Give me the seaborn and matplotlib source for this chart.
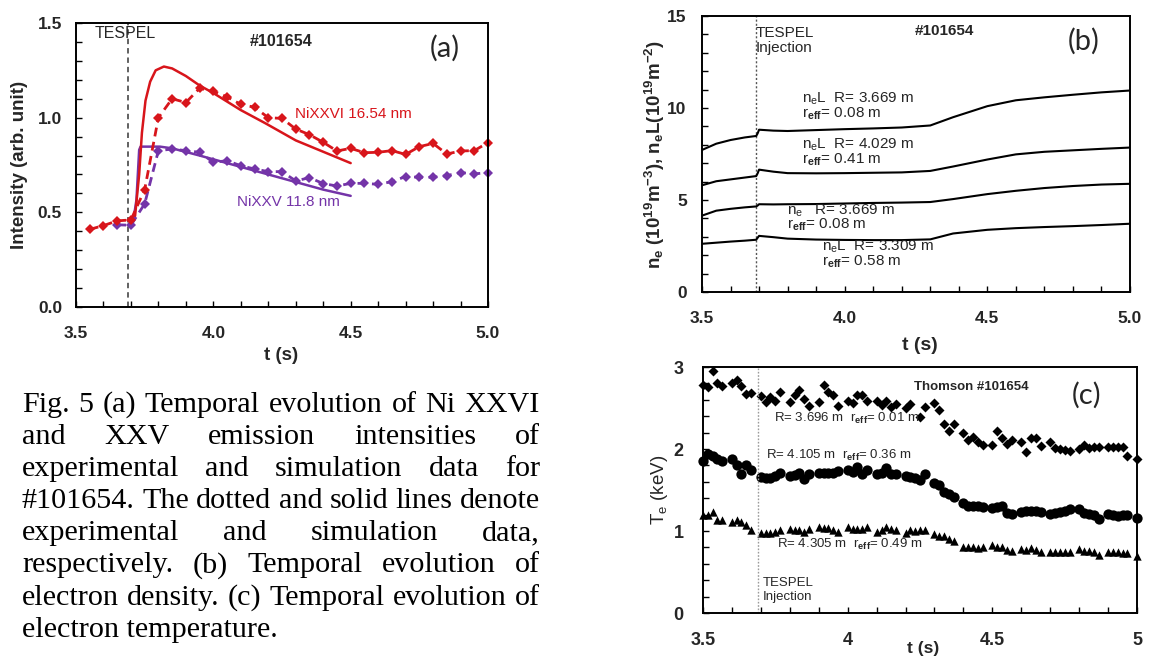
import numpy as np
import pandas as pd
import matplotlib
matplotlib.use("Agg")
import matplotlib.pyplot as plt
import seaborn as sns
from matplotlib.ticker import MultipleLocator

# ---------------- (a) Ni XXVI / Ni XXV line intensities ----------------
t_exp_26 = [3.55, 3.60, 3.65, 3.70, 3.75, 3.80, 3.85, 3.90, 3.95, 4.00,
            4.05, 4.10, 4.15, 4.20, 4.25, 4.30, 4.35, 4.40, 4.45, 4.50,
            4.55, 4.60, 4.65, 4.70, 4.75, 4.80, 4.85, 4.90, 4.95, 5.00]
i_exp_26 = [0.41, 0.43, 0.455, 0.46, 0.62, 1.00, 1.10, 1.08, 1.155, 1.14,
            1.11, 1.07, 1.055, 1.00, 0.996, 0.94, 0.91, 0.87, 0.824, 0.838,
            0.815, 0.817, 0.826, 0.806, 0.847, 0.864, 0.808, 0.824, 0.826, 0.868]
t_exp_25 = [3.65, 3.70, 3.75, 3.80, 3.85, 3.90, 3.95, 4.00, 4.05, 4.10,
            4.15, 4.20, 4.25, 4.30, 4.35, 4.40, 4.45, 4.50, 4.55, 4.60,
            4.65, 4.70, 4.75, 4.80, 4.85, 4.90, 4.95, 5.00]
i_exp_25 = [0.434, 0.432, 0.545, 0.826, 0.834, 0.826, 0.817, 0.764, 0.773, 0.746,
            0.729, 0.715, 0.715, 0.666, 0.683, 0.652, 0.639, 0.653, 0.653, 0.648,
            0.662, 0.689, 0.685, 0.685, 0.694, 0.710, 0.703, 0.710]
t_sim_26 = [3.715, 3.73, 3.74, 3.753, 3.77, 3.79, 3.82, 3.85, 3.90, 3.95,
            4.00, 4.10, 4.19, 4.30, 4.40, 4.50]
i_sim_26 = [0.48, 0.70, 0.92, 1.09, 1.19, 1.25, 1.27, 1.26, 1.22, 1.17,
            1.13, 1.04, 0.97, 0.88, 0.82, 0.76]
t_sim_25 = [3.71, 3.72, 3.73, 3.735, 3.806, 3.85, 3.95, 4.00, 4.10, 4.20,
            4.30, 4.40, 4.50]
i_sim_25 = [0.47, 0.565, 0.83, 0.847, 0.847, 0.838, 0.80, 0.78, 0.74, 0.70,
            0.66, 0.62, 0.587]

# ---------------- (b) line-integrated / local density ----------------
t_dens = [3.50, 3.55, 3.60, 3.65, 3.69, 3.695, 3.70, 3.75, 3.80, 3.90, 4.00,
          4.10, 4.20, 4.30, 4.38, 4.50, 4.60, 4.70, 4.80, 4.90, 5.00]
nel_3669 = [7.72, 8.06, 8.26, 8.40, 8.48, 8.62, 8.82, 8.77, 8.75, 8.80, 8.85,
            8.89, 8.94, 9.05, 9.50, 10.10, 10.42, 10.58, 10.72, 10.85, 10.95]
nel_4029 = [5.80, 6.02, 6.12, 6.22, 6.30, 6.45, 6.65, 6.54, 6.46, 6.45, 6.46,
            6.48, 6.50, 6.58, 6.82, 7.20, 7.48, 7.62, 7.70, 7.78, 7.85]
ne_3669 = [4.15, 4.42, 4.52, 4.60, 4.65, 4.70, 4.77, 4.76, 4.77, 4.78, 4.81,
           4.84, 4.86, 4.89, 5.05, 5.32, 5.50, 5.65, 5.76, 5.84, 5.88]
nel_3309 = [2.62, 2.68, 2.74, 2.79, 2.84, 2.95, 3.05, 2.98, 2.90, 2.85, 2.83,
            2.82, 2.82, 2.86, 3.18, 3.38, 3.47, 3.53, 3.58, 3.64, 3.71]

# ---------------- (c) Thomson scattering electron temperature ----------------
t_ts = [3.500, 3.517, 3.533, 3.550, 3.567, 3.600, 3.617, 3.633, 3.650, 3.667,
        3.700, 3.717, 3.733, 3.750, 3.767, 3.800, 3.817, 3.833, 3.850, 3.867,
        3.900, 3.917, 3.933, 3.950, 3.967, 4.000, 4.017, 4.033, 4.050, 4.067,
        4.100, 4.117, 4.133, 4.150, 4.167, 4.200, 4.217, 4.233, 4.250, 4.267,
        4.300, 4.317, 4.333, 4.350, 4.367, 4.400, 4.417, 4.433, 4.450, 4.467,
        4.500, 4.517, 4.533, 4.550, 4.567, 4.600, 4.617, 4.633, 4.650, 4.667,
        4.700, 4.717, 4.733, 4.750, 4.767, 4.800, 4.817, 4.833, 4.850, 4.867,
        4.900, 4.917, 4.933, 4.950, 4.967, 5.000]
te_r3696 = [2.78, 2.76, 2.95, 2.81, 2.77, 2.80, 2.84, 2.77, 2.67, 2.68,
            2.65, 2.57, 2.64, 2.59, 2.70, 2.57, 2.66, 2.72, 2.61, 2.52,
            2.57, 2.78, 2.70, 2.66, 2.52, 2.59, 2.56, 2.66, 2.66, 2.58,
            2.58, 2.54, 2.59, 2.51, 2.55, 2.50, 2.55, np.nan, 2.39, 2.51,
            2.56, 2.47, 2.30, 2.22, 2.30, 2.19, 2.11, 2.15, 2.09, 2.05,
            2.05, 2.22, 2.13, 2.06, 2.11, 2.09, 1.96, 2.13, 2.13, 2.04,
            2.08, 2.01, 2.00, 1.99, 1.98, 2.00, 2.05, 2.01, 2.03, 2.02,
            2.03, 2.02, 2.02, 2.03, 1.92, 1.88]
te_r4105 = [1.85, 1.94, 1.91, 1.88, 1.85, 1.88, 1.80, 1.69, 1.81, 1.74,
            1.66, 1.65, 1.65, 1.67, 1.71, 1.67, 1.68, 1.71, 1.63, 1.70,
            1.71, 1.71, 1.71, 1.71, 1.73, 1.75, 1.72, 1.78, 1.69, 1.74,
            1.69, 1.71, 1.77, 1.69, 1.70, 1.67, 1.66, 1.65, 1.62, 1.69,
            1.59, 1.56, 1.48, 1.45, 1.42, 1.34, 1.31, 1.30, 1.30, 1.29,
            1.28, 1.29, 1.31, 1.22, 1.21, 1.23, 1.24, 1.25, 1.24, 1.23,
            1.21, 1.22, 1.23, 1.24, 1.27, 1.27, 1.22, 1.21, 1.19, 1.15,
            1.21, 1.19, 1.18, 1.19, 1.20, 1.16]
te_r4305 = [1.19, 1.20, 1.23, 1.13, 1.13, 1.11, 1.13, 1.11, 1.07, 1.01,
            0.97, 0.98, 0.98, 0.99, 1.01, 1.03, 1.01, 1.01, 0.99, 1.02,
            1.05, 1.04, 1.04, 1.01, 0.99, 1.05, 1.03, 1.03, 1.03, 1.05,
            0.99, 1.01, 1.05, 1.03, 1.01, 0.97, 1.01, 1.00, 1.01, 1.01,
            0.96, 0.94, 0.94, 0.90, 0.88, 0.80, 0.80, 0.80, 0.79, 0.81,
            0.83, 0.80, 0.80, 0.77, 0.76, 0.78, 0.77, 0.79, 0.77, 0.74,
            0.75, 0.75, 0.75, 0.75, 0.75, 0.78, 0.76, 0.76, 0.74, 0.71,
            0.75, 0.74, 0.74, 0.73, 0.73, 0.70]

t_tespel = 3.69

caption = [
    "Fig. 5 (a) Temporal evolution of Ni XXVI",
    "and XXV emission intensities of",
    "experimental and simulation data for",
    "#101654. The dotted and solid lines denote",
    "experimental and simulation data,",
    "respectively. (b) Temporal evolution of",
    "electron density. (c) Temporal evolution of",
    "electron temperature.",
]

RED = "#d8151b"
PURPLE = "#7434a8"
SANS = ["Liberation Sans", "DejaVu Sans"]
SERIF = ["Liberation Serif", "DejaVu Serif"]

sns.set_style("ticks")
plt.rcParams["font.family"] = SANS
plt.rcParams["mathtext.fontset"] = "custom"
plt.rcParams["mathtext.rm"] = "Liberation Sans"
plt.rcParams["mathtext.it"] = "Liberation Sans"
plt.rcParams["mathtext.bf"] = "Liberation Sans:bold"

W, H = 1150, 657
fig = plt.figure(figsize=(W / 100, H / 100), dpi=100)
fig.patch.set_facecolor("white")


def px_axes(left, top, right, bottom):
    return fig.add_axes([left / W, 1 - bottom / H, (right - left) / W, (bottom - top) / H])


def frame(ax, xlim, ylim, ymajor, yminor, xfmt, yfmt, ypad, xpad=14, tsize=12.5):
    ax.set_xlim(*xlim)
    ax.set_ylim(*ylim)
    for sp in ax.spines.values():
        sp.set_visible(True)
        sp.set_color("black")
        sp.set_linewidth(1.4)
    ax.xaxis.set_major_locator(MultipleLocator(0.5))
    ax.xaxis.set_minor_locator(MultipleLocator(0.1))
    ax.yaxis.set_major_locator(MultipleLocator(ymajor))
    ax.yaxis.set_minor_locator(MultipleLocator(yminor))
    ax.tick_params(which="both", direction="in", length=4, width=1.0,
                   color="black", top=False, right=False)
    ax.tick_params(axis="x", pad=xpad)
    ax.tick_params(axis="y", pad=ypad)
    ax.set_xticks(ax.get_xticks())
    ax.set_xticklabels([xfmt(v) for v in ax.get_xticks()],
                       fontsize=tsize, fontweight="bold")
    ax.set_yticks(ax.get_yticks())
    ax.set_yticklabels([yfmt(v) for v in ax.get_yticks()],
                       fontsize=tsize, fontweight="bold")
    ax.set_xlim(*xlim)
    ax.set_ylim(*ylim)
    ax.set_xlabel("")
    ax.set_ylabel("")
    ax.grid(False)


# ---------------- panel (a) ----------------
ax_a = px_axes(76, 23, 488, 307)
df_e26 = pd.DataFrame({"t": t_exp_26, "I": i_exp_26})
df_e25 = pd.DataFrame({"t": t_exp_25, "I": i_exp_25})
df_s26 = pd.DataFrame({"t": t_sim_26, "I": i_sim_26})
df_s25 = pd.DataFrame({"t": t_sim_25, "I": i_sim_25})

ax_a.axvline(t_tespel, color="#555555", lw=1.3, ls=(0, (3, 2.2)))
sns.lineplot(data=df_s25, x="t", y="I", ax=ax_a, color=PURPLE, lw=1.8,
             estimator=None, sort=False)
sns.lineplot(data=df_s26, x="t", y="I", ax=ax_a, color=RED, lw=1.8,
             estimator=None, sort=False)
sns.lineplot(data=df_e25, x="t", y="I", ax=ax_a, color=PURPLE, lw=2.0,
             linestyle=(0, (3.2, 2.0)), marker="D", markersize=5.5,
             markeredgewidth=0, estimator=None, sort=False)
sns.lineplot(data=df_e26, x="t", y="I", ax=ax_a, color=RED, lw=2.0,
             linestyle=(0, (3.2, 2.0)), marker="D", markersize=5.5,
             markeredgewidth=0, estimator=None, sort=False)
for ln in ax_a.lines:
    ln.set_clip_on(False)

frame(ax_a, (3.5, 5.0), (0, 1.5), 0.5, 0.1,
      lambda v: f"{v:.1f}", lambda v: f"{v:.1f}", ypad=10)
ax_a.text(3.569, 1.447, "TESPEL", fontsize=11.5, va="center", ha="left")
ax_a.text(4.246, 1.40, "#101654", fontsize=11.5, fontweight="bold",
          va="center", ha="center")
ax_a.text(4.843, 1.366, "(a)", fontsize=21, family="Lato", va="center", ha="center")
ax_a.text(4.297, 1.018, "NiXXVI 16.54 nm", color=RED, fontsize=11,
          va="center", ha="left")
ax_a.text(4.086, 0.556, "NiXXV 11.8 nm", color=PURPLE, fontsize=11,
          va="center", ha="left")
fig.text(20 / W, 1 - 165 / H, "Intensity (arb. unit)", rotation=90,
         fontsize=13.5, fontweight="bold", va="center", ha="center")
fig.text(281 / W, 1 - 355 / H, "t (s)", fontsize=13.5, fontweight="bold",
         va="center", ha="center")

# ---------------- panel (b) ----------------
ax_b = px_axes(702, 16, 1130, 292)
df_b = pd.DataFrame({"t": t_dens, "nel_3669": nel_3669, "nel_4029": nel_4029,
                     "ne_3669": ne_3669, "nel_3309": nel_3309})
ax_b.axvline(t_tespel, color="#555555", lw=1.0, ls=(0, (1.5, 1.5)))
for col in ["nel_3669", "nel_4029", "ne_3669", "nel_3309"]:
    sns.lineplot(data=df_b, x="t", y=col, ax=ax_b, color="black", lw=1.5,
                 estimator=None, sort=False)
frame(ax_b, (3.5, 5.0), (0, 15), 5, 1,
      lambda v: f"{v:.1f}", lambda v: f"{v:.0f}", ypad=11)
ax_b.text(3.687, 14.1, "TESPEL", fontsize=11, va="center", ha="left")
ax_b.text(3.687, 13.24, "Injection", fontsize=11, va="center", ha="left")
ax_b.text(4.349, 14.19, "#101654", fontsize=11, fontweight="bold",
          va="center", ha="center")
ax_b.text(4.836, 13.6, "(b)", fontsize=21, family="Lato", va="center", ha="center")
ann_b = [
    (3.85, 10.30, 9.50, r"n$_{\mathregular{e}}$L  R= 3.669 m", r"r$_{\mathbf{eff}}$= 0.08 m"),
    (3.85, 7.78, 6.98, r"n$_{\mathregular{e}}$L  R= 4.029 m", r"r$_{\mathbf{eff}}$= 0.41 m"),
    (3.798, 4.22, 3.42, r"n$_{\mathregular{e}}$   R= 3.669 m", r"r$_{\mathbf{eff}}$= 0.08 m"),
    (3.92, 2.26, 1.46, r"n$_{\mathregular{e}}$L  R= 3.309 m", r"r$_{\mathbf{eff}}$= 0.58 m"),
]
for x0, y1, y2, s1, s2 in ann_b:
    ax_b.text(x0, y1, s1, fontsize=11, va="baseline", ha="left")
    ax_b.text(x0, y2, s2, fontsize=11, va="baseline", ha="left")
fig.text(655 / W, 1 - 155 / H,
         r"n$_\mathbf{e}$ (10$^\mathbf{19}$m$^\mathbf{-3}$), n$_\mathbf{e}$L(10$^\mathbf{19}$m$^\mathbf{-2}$)",
         rotation=90, fontsize=13.5, fontweight="bold", va="center", ha="center")
fig.text(920 / W, 1 - 345 / H, "t (s)", fontsize=14, fontweight="bold",
         va="center", ha="center")

# ---------------- panel (c) ----------------
ax_c = px_axes(703, 367, 1137, 613)
df_c = pd.DataFrame({"t": t_ts, "r3696": te_r3696, "r4105": te_r4105,
                     "r4305": te_r4305})
ax_c.axvline(t_tespel, color="#9a9a9a", lw=1.0, ls=(0, (1.2, 1.2)))
sns.scatterplot(data=df_c, x="t", y="r3696", ax=ax_c, color="black",
                marker="D", s=26, linewidth=0, clip_on=False)
sns.scatterplot(data=df_c, x="t", y="r4105", ax=ax_c, color="black",
                marker="o", s=55, linewidth=0, clip_on=False)
sns.scatterplot(data=df_c, x="t", y="r4305", ax=ax_c, color="black",
                marker="^", s=36, linewidth=0, clip_on=False)
frame(ax_c, (3.5, 5.0), (0, 3), 1, 0.2,
      lambda v: f"{v:g}", lambda v: f"{v:.0f}", ypad=14, tsize=13)
ax_c.text(4.23, 2.75, "Thomson #101654", fontsize=9.5, fontweight="bold",
          va="center", ha="left")
ax_c.text(4.827, 2.66, "(c)", fontsize=21, family="Lato", va="center", ha="center")
ax_c.text(3.744, 2.37, r"R= 3.696 m  r$_{\mathbf{eff}}$= 0.01 m", fontsize=9.5,
          va="center", ha="left")
ax_c.text(3.719, 1.92, r"R= 4.105 m  r$_{\mathbf{eff}}$= 0.36 m", fontsize=9.5,
          va="center", ha="left")
ax_c.text(3.755, 0.83, r"R= 4.305 m  r$_{\mathbf{eff}}$= 0.49 m", fontsize=9.5,
          va="center", ha="left")
ax_c.text(3.705, 0.37, "TESPEL", fontsize=9.5, va="center", ha="left")
ax_c.text(3.705, 0.20, "Injection", fontsize=9.5, va="center", ha="left")
fig.text(660 / W, 1 - 490 / H, r"T$_{\mathregular{e}}$ (keV)", rotation=90,
         fontsize=13.5, va="center", ha="center")
fig.text(923 / W, 1 - 649 / H, "t (s)", fontsize=12.5, fontweight="bold",
         va="center", ha="center")

# ---------------- justified caption ----------------
cap_left, cap_right = 22, 540
cap_base0, cap_step = 412, 32.1
renderer = fig.canvas.get_renderer()


def text_width(s, size):
    tmp = fig.text(0, 0, s, fontsize=size, family=SERIF)
    wd = tmp.get_window_extent(renderer).width
    tmp.remove()
    return wd


# font size chosen so the widest line fits the column with natural spacing
ref_size = 20.0
widest = max(text_width(line, ref_size) for line in caption[:-1])
cap_size = ref_size * (cap_right - cap_left) / widest
cap_kw = dict(fontsize=cap_size, family=SERIF, color="black")

for i, line in enumerate(caption):
    yb = 1 - (cap_base0 + i * cap_step) / H
    words = line.split()
    if i == len(caption) - 1:
        fig.text(cap_left / W, yb, line, va="baseline", ha="left", **cap_kw)
        continue
    widths = [text_width(w, cap_size) for w in words]
    gap = (cap_right - cap_left - sum(widths)) / (len(words) - 1)
    x = cap_left
    for w, wd in zip(words, widths):
        fig.text(x / W, yb, w, va="baseline", ha="left", **cap_kw)
        x += wd + gap

fig.savefig("out.png", dpi=100, facecolor="white")
